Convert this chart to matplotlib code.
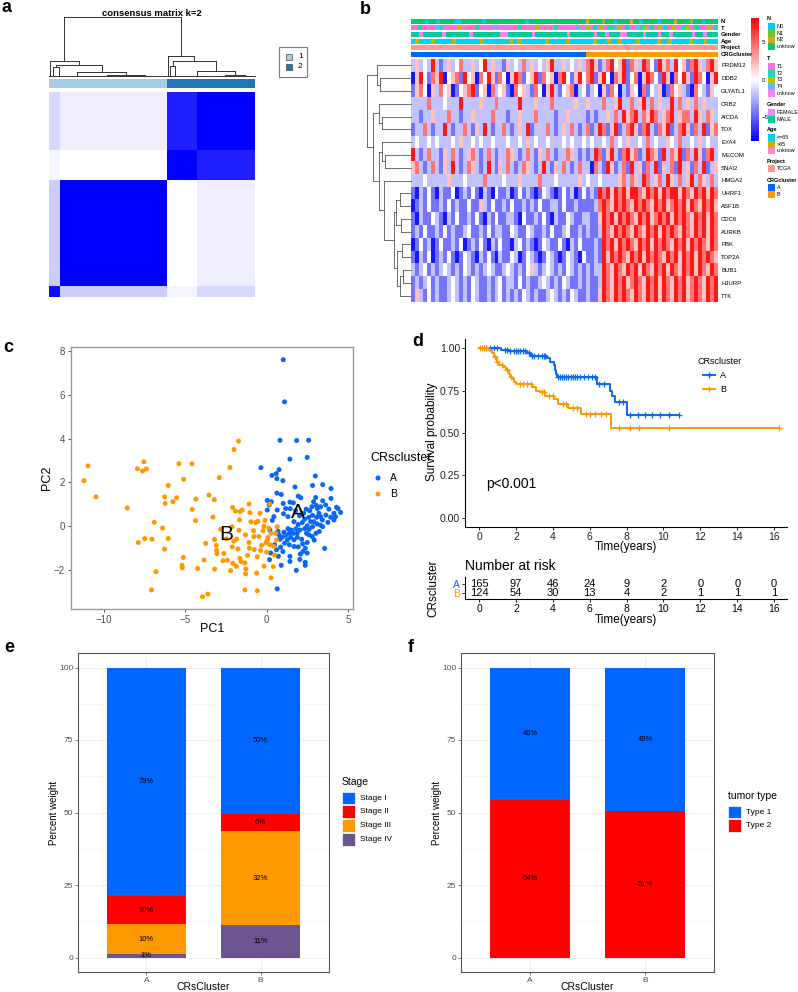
import numpy as np
import matplotlib
matplotlib.use("Agg")
import matplotlib.pyplot as plt
from matplotlib.colors import LinearSegmentedColormap, ListedColormap, to_rgb
from matplotlib.patches import Rectangle
from matplotlib.lines import Line2D

plt.rcParams['font.family'] = ['Liberation Sans', 'DejaVu Sans']

# ---------------- data ----------------
# a: consensus matrix, sample groups (cluster 1 = 165, cluster 2 = 124)
cons_sizes = [15, 150, 42, 82]
cons_cluster = [1, 1, 2, 2]
cons_block = [[0.95, 0.20, 0.04, 0.16],
              [0.20, 1.00, 0.00, 0.07],
              [0.04, 0.00, 1.00, 0.88],
              [0.16, 0.07, 0.88, 1.00]]
# column dendrogram: (height, left, right), int = group of samples
cons_tree = (1.0,
             (0.27, 3, (0.20, (0.16, 6, 10), (0.08, 40, (0.03, 46, 60)))),
             (0.35, 3, (0.27, (0.19, 4, 10), (0.10, 50, (0.04, 30, 27)))))

# b: heatmap
genes = ['PRDM12', 'DDB2', 'GLYATL1', 'CRB2', 'AICDA', 'TOX', 'EYA4', 'MECOM', 'SNAI2',
         'HMGA2', 'UHRF1', 'ASF1B', 'CDC6', 'AURKB', 'PBK', 'TOP2A', 'BUB1', 'HJURP', 'TTK']
n_A, n_B = 165, 124
hm_rows = [
    "lplwlRlblplwrllplwRlpllbplwlrlplwlpRllplwlpl|rRpblrRwpRbrplRrwbRprlRwpbrRplrRp",
    "BpRwbrpRBwprbRwpBrwRpbrwBpRrbwpRbrwpBrRwbpRw|rRbpRwBrpRbwrBpRrwbRpBrwRpbRrwBpR",
    "bprwBplrwpBbwprRbwpBrlwpbBrwplbrwBpRlbwprBlw|blwBpbrwBlbpwBrbwlpBbrwplbBrwlbpw",
    "llllrlllwlllRllllplllrlllllRlllplllrlllllpll|plllrllpRllrlpRlrlpllRlrlplrlplll",
    "llbllplllrllbllpllllrlllbllplllrllllbllpllll|blbllplrlRprRlrpRrlprRlprrlRplrpl",
    "bllrlbllRlbllrlbplRlbllrlblplRblllrlblplrlbl|rblRrbpRblrRpbrRlbrpRblrRpbrlRbpr",
    "lwllwlwlllwlpllwlwllwlllwllwlplwllwlllwlwllw|lwllwlrlwlpllwlrlwllpwlrllwlplwll",
    "Rlblrllbplrlblprlblrlbllrplblrlbplrlbllrplbl|blRrbpRlbrRprblRrpbRlrpRbrlRpbrRl",
    "prlblrlbplRlblrplblRlbplrlblrplblRlbplrlblrl|lBrlbRpblrbRlpbrlRbplrbRlpbrlRblp",
    "lllwlllllplllwllllrllllwlllpllllrlllwlllllpl|wllwllllprlrplRrlprlRplrlpRlrplrl",
    "bBlbwbBlbbwBblbwbBlbBwbblBbwblbBbwlbBbwblBbw|blbRrRpRrRpRRrpRrRpRrRRpRrpRrRpRr",
    "Bblbwbblbwblbbwbbplbwbblbwbblblbwbbllbwbblbb|bblrRrpRrRrpRrRrpRrRprRrRpRrpRrRp",
    "bBlbbwlbBlbwbblbwbBlbwbbllbBwbblbwbBlbbwlbbl|lbbpRrRpRrRrpRrRprRrRpRrRrpRrRpRr",
    "blbwbblbwblbblwbblbwbllbbwlbbwlbblbwbblwbblb|lbblRrpRrRrpRrpRrRpRrRrpRrpRrRpRr",
    "BbwblBbwbblbwBblbwbBlbwbbBlwblbBbwlbbwbBlbwb|bblbRrRpRrRrpRrRpRrRrpRrRpRrRrpRr",
    "bBlbwBblbwbBbwlbBlbwbBlbbwlBbwlbBbwlbBbwlbBw|bblbRpRrRrpRrRpRrRrpRrRpRrRpRrRrp",
    "lblwblblwlblbwlblblwlbblwlblbwplblwlblbwlblb|lbllRrpRrpRrRpRrpRrRpRrpRrRpRrpRr",
    "blblwblbblwlblbwlbblblwbllbwblbblwlblbwlbblb|lbblRrpRrRprRrpRrRpRrpRrRprRrpRrR",
    "bplbwblbblwlblbwlbblblwblblbwlblbblwlblbwlbb|lbbpRrpRrRrpRrpRrRpRrpRrRprRrpRrR",
]
hm_level = {'B': -7.5, 'b': -4.5, 'l': -2.0, 'w': 0.0, 'p': 2.0, 'r': 4.5, 'R': 7.5}
# row dendrogram (each leaf = one gene, in order)
gene_tree = (1.0,
             (0.78, 1, (0.71, 1, 1)),
             (0.86,
              (0.72, 1, (0.67, 1, 1)),
              (0.72,
               (0.66, 1, (0.60, 1, 1)),
               (0.62, 1,
                (0.38,
                 (0.34, (0.25, 1, 1), (0.22, 1, 1)),
                 (0.32, (0.20, 1, 1), (0.25, (0.18, 1, 1), 1)))))))

annot_names = ['N', 'T', 'Gender', 'Age', 'Project', 'CRGcluster']
annot_rows = [
    "uuuu0uu0uuuu00uuuuuu0uuuuuuuuuuu0uuuuuuuuuuuuuuuu|2uuuu1uuu0uuuu2uu0uuuuu0uuuu2uuuu1uuu0uuuu",
    "1121111421111311112111141111112111131111211111411|3121312213121142312131213112312211312",
    "MMFMMMMMFMMMMMMFMMMMMMMFFMMMMMMFMMMMMMMMFMMMM|MMFMMFMMMFFMMMMFMMMFMMFMMMMMFMMFMMM",
    "yoyyyoyyyyoyyyyyyoyyyyyyoyoyyyyyyoyyyyoyyyy|yyoyyyoyyoyyyyoyyyyyoyyoyyyyyoyyyoyyy",
    "t|t",
    "A|B",
]
annot_levels = [
    [('0', 'N0', '#00CCEE'), ('1', 'N1', '#77C22A'), ('2', 'N2', '#DDA51A'), ('u', 'unknow', '#00CC6A')],
    [('1', 'T1', '#FF6EDD'), ('2', 'T2', '#1FD6B9'), ('3', 'T3', '#B0C400'), ('4', 'T4', '#66B3FF'),
     ('u', 'unknow', '#FF80EE')],
    [('F', 'FEMALE', '#EE88EE'), ('M', 'MALE', '#00CC99')],
    [('y', '<=65', '#00D2F0'), ('o', '>65', '#C8B400'), ('u', 'unknow', '#FF88CC')],
    [('t', 'TCGA', '#FF9A8A')],
    [('A', 'A', '#0066FF'), ('B', 'B', '#FF9900')],
]

# c: PCA
pc1_A = [1.02, 1.10, 0.82, 1.84, 2.58, 1.43, 2.49, -0.35, 0.33, 0.59, 0.76, 0.63, 1.00, 2.99, 2.82,
         3.44, 3.95, 1.74, 0.63, 0.90, 0.04, 0.29, 0.04, 1.02, 1.43, 1.64, 1.94, 1.17, 1.45, 1.78,
         0.65, 1.04, 1.31, 0.45, 0.35, 0.20, 0.70, 0.78, 1.17, 1.39, 1.64, 1.88, 2.15, 2.45, 2.49,
         2.80, 3.03, 3.23, 3.44, 3.76, 3.93, 4.13, 4.38, 4.54, 4.29, 3.95, 3.44, 3.01, 2.88, 2.78,
         2.64, 2.43, 2.27, 2.02, 2.33, 2.58, 2.82, 3.07, 3.31, 3.64, 3.42, 3.09, 2.82, 2.60, 2.33,
         2.04, 1.80, 1.51, 1.31, 1.06, 0.82, 0.49, 0.61, 0.86, 1.10, 1.39, 1.68, 1.94, 2.21, 2.37,
         2.49, 2.23, 2.07, 1.43, 1.00, 0.72, 0.25, 0.18, 0.90, 1.43, 2.04, 2.37, 2.37, 1.82, 2.90,
         3.82, 2.92, 3.56, 0.65, 0.16, 1.68, 1.94, 2.19, 2.49, 2.70, 3.21, 3.11, 3.31, 3.62, 4.23,
         4.13, 1.68, 1.27, 0.96, 1.47, 2.60, 1.88, 3.05, 3.30, 2.10]
pc2_A = [7.59, 5.67, 3.92, 3.91, 3.92, 3.06, 3.14, 2.67, 2.32, 2.40, 2.58, 2.17, 2.08, 2.29, 1.86,
         1.90, 1.72, 1.79, 1.51, 1.45, 1.18, 1.12, 0.74, 1.04, 1.10, 1.07, 1.37, 0.81, 0.80, 0.71,
         0.74, 0.57, 0.44, 0.44, 0.27, -0.17, -0.23, -0.41, -0.41, -0.32, -0.32, -0.50, -0.59, -0.32, -0.74,
         -0.47, -0.32, -0.24, -0.02, 0.18, 0.41, 0.59, 0.81, 0.63, 0.86, 1.27, 1.16, 1.31, 1.12, 0.89,
         0.71, 0.78, 0.59, 0.48, 0.32, 0.41, 0.50, 0.41, 0.44, 0.51, 0.29, 0.11, -0.02, -0.14, -0.11,
         -0.17, -0.11, -0.17, -0.11, -0.27, -0.59, -0.84, -1.07, -0.95, -0.77, -0.84, -0.92, -0.94, -0.80, -1.00,
         -1.22, -1.15, -1.27, -1.37, -1.15, -1.37, -1.22, -1.52, -1.78, -1.60, -1.51, -1.64, -1.78, -2.01, 0.21,
         0.78, -0.63, -1.01, -2.85, 0.97, 0.21, 0.08, 0.17, 0.02, 0.21, 0.59, 0.81, 0.89, 0.97, 0.44,
         0.29, -0.62, -0.62, -0.50, -0.50, -0.39, -0.32, 0.95, 0.05, 1.30]
pc1_B = [-11.21, -10.96, -10.47, -8.55, -7.93, -7.53, -7.38, -7.61, -7.87, -7.48, -7.03, -6.89, -7.06,
         -6.79, -6.38, -6.26, -6.22, -6.03, -6.03, -6.26, -5.75, -5.52, -5.38, -5.09, -5.11, -5.19,
         -5.17, -4.58, -4.56, -4.34, -4.23, -3.93, -3.60, -3.84, -3.74, -3.29, -3.21, -3.19, -3.09,
         -3.07, -3.05, -2.90, -3.19, -2.68, -2.47, -2.25, -2.09, -2.00, -1.72, -2.13, -2.11, -2.21,
         -2.07, -2.02, -1.84, -1.70, -1.66, -1.64, -1.92, -1.76, -1.64, -1.57, -1.33, -1.27, -1.29,
         -1.17, -1.06, -1.08, -1.02, -0.96, -0.80, -0.78, -0.67, -0.57, -0.53, -0.47, -0.41, -0.31,
         -0.22, -0.16, -0.10, -0.04, 0.00, 0.04, 0.08, 0.14, 0.20, 0.27, 0.45, 0.49, 0.41, 0.27,
         -0.57, -1.33, -1.86, -2.41, -2.62, -2.82, -3.54, -0.76, 0.55, 0.65, 0.61, 0.20, -0.37,
         -0.16, -0.61, -1.08, -1.49, -1.29, -4.36]
pc2_B = [2.08, 2.75, 1.34, 0.83, 2.62, 2.94, 2.61, 2.52, -0.74, -0.56, -0.59, 0.18, -2.90,
         -2.07, -0.08, 1.34, 1.04, 1.86, -0.56, -1.04, 1.12, 1.30, 2.85, 2.14, -1.42, -1.78,
         -1.89, 2.85, 0.77, 1.24, -1.92, -3.21, -3.09, -1.54, -0.78, 0.42, 1.21, -0.60, -0.87,
         -1.10, -1.25, 2.22, -1.95, -1.57, -0.57, 2.68, 0.86, 3.50, 3.88, -0.02, -0.94, -2.02,
         -1.69, -0.68, -0.59, -0.18, 0.29, 0.66, 0.69, -1.03, -1.46, -1.61, -2.90, -1.95, -2.17,
         -1.33, -1.00, -0.74, 0.62, 0.21, -0.20, -0.47, 0.17, -1.39, 0.23, -0.47, 0.59, -0.87,
         -0.20, 0.00, 0.27, -0.75, -1.18, -0.63, -0.51, -0.09, -0.84, -0.32, -0.92, -1.31, -1.84, -2.35,
         -2.94, -1.67, -1.82, -1.55, -1.24, -0.14, 1.42, -1.06, -0.32, -0.02, -0.62, 1.01, -1.10,
         -1.82, -2.13, 1.01, 0.74, -0.39, 0.26]
pca_label_pos = {'A': (1.94, 0.64), 'B': (-2.5, -0.39)}

# d: Kaplan-Meier
km_time_A = [0, 1.2, 1.6, 2.6, 2.8, 3.7, 3.85, 4.05, 4.1, 4.15, 4.25, 6.4, 7.1, 7.2, 7.35, 8.0, 10.86]
km_surv_A = [1.0, 0.99, 0.98, 0.97, 0.955, 0.94, 0.92, 0.90, 0.87, 0.85, 0.83, 0.79, 0.75, 0.72, 0.68,
             0.605, 0.605]
km_time_B = [0, 0.55, 0.7, 0.8, 0.95, 1.1, 1.3, 1.45, 1.6, 1.7, 1.8, 1.9, 2.0, 2.9, 3.1, 3.3, 3.6,
             4.07, 4.3, 4.8, 5.55, 7.15, 16.25]
km_surv_B = [1.0, 0.99, 0.97, 0.95, 0.92, 0.90, 0.89, 0.87, 0.85, 0.83, 0.82, 0.80, 0.79, 0.77, 0.75,
             0.74, 0.72, 0.70, 0.67, 0.645, 0.61, 0.53, 0.53]
cens_A = [0.4, 0.6, 0.8, 1.0, 1.4, 1.5, 1.7, 1.9, 2.0, 2.1, 2.2, 2.4, 2.5, 2.7, 2.9, 3.0, 3.2, 3.4, 3.5,
          3.6, 4.3, 4.4, 4.5, 4.6, 4.7, 4.8, 5.0, 5.1, 5.2, 5.3, 5.5, 5.7, 5.9, 6.1, 6.3, 6.5, 6.8,
          7.6, 7.8, 8.2, 8.6, 9.0, 9.4, 9.8, 10.3, 10.86]
cens_B = [0.05, 0.15, 0.25, 0.4, 0.85, 1.0, 1.25, 1.5, 1.75, 2.2, 2.4, 2.6, 2.8, 3.4, 3.5, 3.8, 4.0,
          4.55, 4.7, 5.1, 5.3, 5.8, 6.0, 6.3, 6.6, 6.9, 7.6, 8.2, 8.7, 10.3, 16.25]
risk_times = [0, 2, 4, 6, 8, 10, 12, 14, 16]
risk_A = [165, 97, 46, 24, 9, 2, 0, 0, 0]
risk_B = [124, 54, 30, 13, 4, 2, 1, 1, 1]

# e, f: stacked percentages
clusters = ['A', 'B']
stages = ['Stage I', 'Stage II', 'Stage III', 'Stage IV']
stage_colors = ['#0066FF', '#FF0000', '#FF9900', '#6B5490']
stage_pct = {'A': [78.9, 9.7, 10.1, 1.3], 'B': [50.4, 6.1, 32.4, 11.1]}
types = ['Type 1', 'Type 2']
type_colors = ['#0066FF', '#FF0000']
type_pct = {'A': [45.7, 54.3], 'B': [49.4, 50.6]}

# ---------------- figure ----------------
W, H = 798, 992
fig = plt.figure(figsize=(W / 100, H / 100), dpi=100)


def px_axes(l, t, r, b):
    return fig.add_axes([l / W, 1 - b / H, (r - l) / W, (b - t) / H])


ov = fig.add_axes([0, 0, 1, 1], zorder=10)
ov.set_xlim(0, W)
ov.set_ylim(H, 0)
ov.axis('off')
ov.patch.set_alpha(0)


def tree_segments(node, start, segs):
    if not isinstance(node, tuple):
        if node > 1:
            segs.append(((start + 0.3, start + node - 0.3), (0.012, 0.012)))
            return start + node / 2, 0.012, start + node
        return start + 0.5, 0.0, start + 1
    h, left, right = node
    xl, hl, nxt = tree_segments(left, start, segs)
    xr, hr, end = tree_segments(right, nxt, segs)
    segs.append(((xl, xl), (hl, h)))
    segs.append(((xr, xr), (hr, h)))
    segs.append(((xl, xr), (h, h)))
    return (xl + xr) / 2, h, end


for lab, x, y in [("a", 2, 8), ("b", 360, 10), ("c", 3, 347), ("d", 412, 342), ("e", 4, 647), ("f", 408, 647)]:
    ov.text(x, y, lab, fontsize=13, fontweight='bold', ha='left', va='center')

# ---- a ----
n_tot = sum(cons_sizes)
cons = np.repeat(np.repeat(np.array(cons_block), cons_sizes, axis=0), cons_sizes, axis=1)
axm = px_axes(49, 92, 255, 297)
axm.imshow(cons, cmap=LinearSegmentedColormap.from_list('wb', ['white', 'blue']), vmin=0, vmax=1,
           origin='lower', aspect='auto', interpolation='nearest')
axm.axis('off')

axcb = px_axes(49, 79, 255, 88)
axcb.imshow([np.repeat(cons_cluster, cons_sizes)], cmap=ListedColormap(['#A6CEE3', '#1F78B4']),
            aspect='auto', interpolation='nearest')
axcb.axis('off')

axd = px_axes(49, 17, 255, 77)
segs = []
tree_segments(cons_tree, 0, segs)
for xs, hs in segs:
    axd.plot(xs, hs, color='#333333', lw=0.7, clip_on=False)
axd.set_xlim(0, n_tot)
axd.set_ylim(0, 1)
axd.axis('off')

ov.text(152, 13, 'consensus matrix k=2', ha='center', va='center', fontsize=6.8, fontweight='bold')
ov.add_patch(Rectangle((279, 47), 28, 30, fill=False, ec='#777777', lw=0.8))
for k, (lab, col) in enumerate([('1', '#A6CEE3'), ('2', '#1F78B4')]):
    ov.add_patch(Rectangle((286, 54 + 10 * k), 6, 6, fc=col, ec='#444444', lw=0.5))
    ov.text(298, 57 + 10 * k, lab, fontsize=6, va='center')

# ---- b ----
cmap_hm = LinearSegmentedColormap.from_list('bwr_', ['blue', 'white', 'red'])
axh = px_axes(411, 59, 717, 302)
for i, row in enumerate(hm_rows):
    for part, x0, x1 in zip(row.split('|'), [0, n_A], [n_A, n_A + n_B]):
        vals = np.array([[hm_level[c] for c in part]])
        axh.imshow(vals, cmap=cmap_hm, vmin=-8.3, vmax=8.3, extent=[x0, x1, i + 1, i],
                   aspect='auto', interpolation='nearest')
axh.set_xlim(0, n_A + n_B)
axh.set_ylim(len(genes), 0)
axh.set_yticks(np.arange(len(genes)) + 0.5)
axh.set_yticklabels(genes, fontsize=4.3)
axh.yaxis.tick_right()
axh.tick_params(axis='y', length=0, pad=3)
axh.set_xticks([])
for s in axh.spines.values():
    s.set_visible(False)

axr = px_axes(367, 59, 411, 302)
segs = []
tree_segments(gene_tree, 0, segs)
for xs, hs in segs:
    axr.plot(hs, xs, color='#555555', lw=0.6, clip_on=False)
axr.set_xlim(1.0, 0)
axr.set_ylim(len(genes), 0)
axr.axis('off')

axa = px_axes(411, 18, 717, 58)
annot_top = [19, 25.7, 32.3, 39, 45.7, 52.3]
for name, row, levels, top in zip(annot_names, annot_rows, annot_levels, annot_top):
    cmap_d = {code: to_rgb(col) for code, _, col in levels}
    for part, x0, x1 in zip(row.split('|'), [0, n_A], [n_A, n_A + n_B]):
        rgb = np.array([[cmap_d[c] for c in part]])
        axa.imshow(rgb, extent=[x0, x1, top + 4.6, top], aspect='auto', interpolation='nearest')
    ov.text(721, top + 2.3, name, fontsize=4.2, fontweight='bold', va='center')
axa.set_xlim(0, n_A + n_B)
axa.set_ylim(58, 18)
axa.axis('off')

axc = px_axes(751, 18, 759, 141)
axc.imshow(np.linspace(8.3, -8.3, 256)[:, None], cmap=cmap_hm, vmin=-8.3, vmax=8.3,
           extent=[0, 1, -8.3, 8.3], aspect='auto')
axc.set_xticks([])
axc.set_yticks([-5, 0, 5])
axc.set_yticklabels(['\u22125', '0', '5'], fontsize=4.5)
axc.yaxis.tick_right()
axc.tick_params(axis='y', length=0, pad=2)
for s in axc.spines.values():
    s.set_visible(False)

leg_title_y = [19, 59, 105, 130, 161, 180]
for name, levels, ty in zip(annot_names, annot_levels, leg_title_y):
    ov.text(767, ty, name, fontsize=4.0, fontweight='bold', va='center')
    for k, (_, lab, col) in enumerate(levels):
        yc = ty + 7.5 + 6.7 * k
        ov.add_patch(Rectangle((768, yc - 3.35), 7, 6.7, fc=col, ec='none'))
        ov.text(776.5, yc, lab, fontsize=3.9, va='center')

# ---- c ----
axp = px_axes(71, 347, 353, 609)
col_A, col_B = '#0A66F5', '#FF9900'
axp.scatter(pc1_A, pc2_A, s=13, color=col_A, edgecolors='none')
axp.scatter(pc1_B, pc2_B, s=13, color=col_B, edgecolors='none')
for lab, (lx, ly) in pca_label_pos.items():
    axp.text(lx, ly, lab, fontsize=15, ha='center', va='center')
axp.set_xlim(-12.0, 5.3)
axp.set_ylim(-3.77, 8.17)
axp.set_xticks([-10, -5, 0, 5])
axp.set_yticks([-2, 0, 2, 4, 6, 8])
axp.tick_params(labelsize=7, labelcolor='#4D4D4D', color='#333333', length=2.5, width=0.6, pad=2)
for s in axp.spines.values():
    s.set_color('#999999')
    s.set_linewidth(1.0)
ov.text(212, 629, 'PC1', fontsize=9, ha='center', va='center')
ov.text(47, 478, 'PC2', fontsize=9, ha='center', va='center', rotation=90)
ov.text(370, 458, 'CRscluster', fontsize=9, ha='left', va='center')
for k, (lab, col) in enumerate([('A', col_A), ('B', col_B)]):
    ov.scatter([378], [478 + 16 * k], s=13, color=col, edgecolors='none')
    ov.text(390, 478 + 16 * k, lab, fontsize=7.5, va='center')

# ---- d ----
axk = px_axes(465, 339, 787, 527)


def surv_at(times, surv, t):
    idx = np.searchsorted(times, t, side='right') - 1
    return np.array(surv)[idx]


for tt, ss, cc, col in [(km_time_A, km_surv_A, cens_A, col_A), (km_time_B, km_surv_B, cens_B, col_B)]:
    axk.step(tt, ss, where='post', color=col, lw=1.4)
    axk.plot(cc, surv_at(tt, ss, cc), '+', color=col, ms=5, mew=0.9)
axk.set_xlim(-0.76, 16.7)
axk.set_ylim(-0.053, 1.053)
axk.set_xticks(risk_times)
axk.set_yticks([0, 0.25, 0.5, 0.75, 1.0])
axk.set_yticklabels(['0.00', '0.25', '0.50', '0.75', '1.00'])
axk.tick_params(labelsize=7.5, labelcolor='#222222', length=2.5, width=0.6, pad=1)
for side in ['top', 'right']:
    axk.spines[side].set_visible(False)
for side in ['left', 'bottom']:
    axk.spines[side].set_linewidth(0.8)
ov.text(626, 547, 'Time(years)', fontsize=8.5, ha='center', va='center')
ov.text(432, 432, 'Survival probability', fontsize=8.5, ha='center', va='center', rotation=90)
ov.text(486, 484, 'p<0.001', fontsize=10, ha='left', va='center')
ov.text(698, 361, 'CRscluster', fontsize=6.5, ha='left', va='center')
for k, (lab, col) in enumerate([('A', col_A), ('B', col_B)]):
    yy = 375 + 14 * k
    ov.add_line(Line2D([703, 715], [yy, yy], color=col, lw=1.4))
    ov.plot([709], [yy], '+', color=col, ms=5, mew=0.9)
    ov.text(720, yy, lab, fontsize=6.5, va='center')

axt = px_axes(465, 577, 787, 599)
for t, a, b in zip(risk_times, risk_A, risk_B):
    axt.text(t, 1, str(a), fontsize=8, ha='center', va='center')
    axt.text(t, 0, str(b), fontsize=8, ha='center', va='center')
axt.set_xlim(-0.76, 16.7)
axt.set_ylim(-0.667, 1.778)
axt.set_xticks(risk_times)
axt.set_yticks([0, 1])
axt.set_yticklabels(['B', 'A'])
for lbl, col in zip(axt.get_yticklabels(), [col_B, col_A]):
    lbl.set_color(col)
axt.tick_params(labelsize=7.5, length=2.5, width=0.6, pad=1)
for side in ['top', 'right']:
    axt.spines[side].set_visible(False)
for side in ['left', 'bottom']:
    axt.spines[side].set_linewidth(0.8)
ov.text(465, 566, 'Number at risk', fontsize=10, ha='left', va='center')
ov.text(626, 620, 'Time(years)', fontsize=8.5, ha='center', va='center')
ov.text(433, 588, 'CRscluster', fontsize=8.5, ha='center', va='center', rotation=90)


# ---- e, f ----
def stacked(ax, pct, names, colors):
    xs = np.arange(1, len(clusters) + 1)
    for x, cl in zip(xs, clusters):
        vals = pct[cl]
        bottom = 0.0
        for v, col in list(zip(vals, colors))[::-1]:
            ax.bar(x, v, 0.7, bottom=bottom, color=col, zorder=2)
            ax.text(x, bottom + v / 2, '%d%%' % round(v), fontsize=5.5, ha='center', va='center', zorder=3)
            bottom += v
    ax.set_xlim(0.4, 2.6)
    ax.set_ylim(-5, 105)
    ax.set_xticks(xs)
    ax.set_xticklabels(clusters)
    ax.set_yticks([0, 25, 50, 75, 100])
    ax.set_yticks([12.5, 37.5, 62.5, 87.5], minor=True)
    ax.grid(True, which='major', color='#EBEBEB', lw=0.6, zorder=0)
    ax.grid(True, which='minor', axis='y', color='#F4F4F4', lw=0.4, zorder=0)
    ax.tick_params(labelsize=6, labelcolor='#4D4D4D', color='#4D4D4D', length=2, width=0.5, pad=1.5)
    ax.tick_params(which='minor', length=0)
    for s in ax.spines.values():
        s.set_color('#555555')
        s.set_linewidth(0.8)


axe = px_axes(78, 653, 329, 972)
stacked(axe, stage_pct, stages, stage_colors)
axf = px_axes(461, 653, 714, 972)
stacked(axf, type_pct, types, type_colors)

for cx, ax_lab_x, leg_x, title, names, colors, ty in [
        (203, 54, 342, 'Stage', stages, stage_colors, 782),
        (587, 437, 728, 'tumor type', types, type_colors, 796)]:
    ov.text(cx, 987, 'CRsCluster', fontsize=7.5, ha='center', va='center')
    ov.text(ax_lab_x, 813, 'Percent weight', fontsize=7, ha='center', va='center', rotation=90)
    ov.text(leg_x, ty, title, fontsize=7.5, ha='left', va='center')
    for k, (nm, col) in enumerate(zip(names, colors)):
        yc = ty + 16 + 13.8 * k
        ov.add_patch(Rectangle((leg_x, yc - 6.4), 13, 12.8, fc=col, ec='white', lw=0.5))
        ov.text(leg_x + 18, yc, nm, fontsize=6, va='center')

fig.savefig('out.png', dpi=100)
